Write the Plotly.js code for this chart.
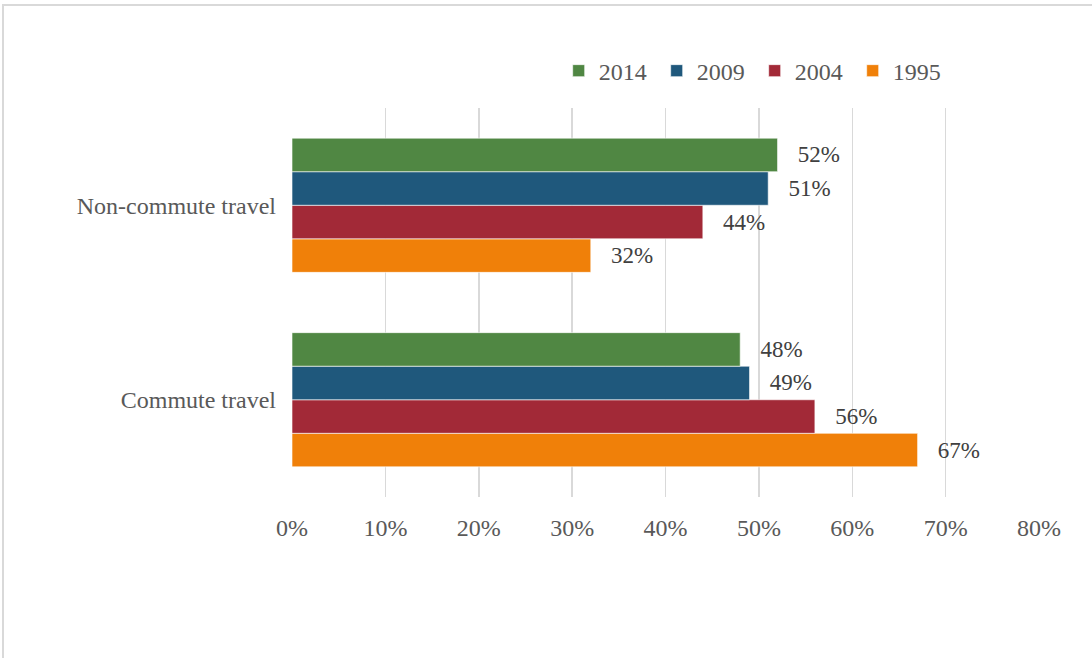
<!DOCTYPE html>
<html>
<head>
<meta charset="utf-8">
<script src="https://cdn.plot.ly/plotly-3.0.1.min.js"></script>
<style>
html,body{margin:0;padding:0;background:#fff;}
#wrap{position:relative;width:1092px;height:658px;}
#chart{width:1092px;height:658px;}
#frame{position:absolute;left:2px;top:4px;width:1090px;height:654px;border-top:2px solid #d9d9d9;border-left:2px solid #d9d9d9;box-sizing:border-box;pointer-events:none;}
</style>
</head>
<body>
<div id="wrap"><div id="chart"></div><div id="frame"></div></div>
<script>
const categories = ['Commute travel', 'Non-commute travel'];
const years = ['1995', '2004', '2009', '2014'];
const values1995 = [0.67, 0.32];
const values2004 = [0.56, 0.44];
const values2009 = [0.49, 0.51];
const values2014 = [0.48, 0.52];
const tickValues = [0, 0.1, 0.2, 0.3, 0.4, 0.5, 0.6, 0.7, 0.8];
const tickLabels = ['0%', '10%', '20%', '30%', '40%', '50%', '60%', '70%', '80%'];

const colors = {'1995': '#F08009', '2004': '#A22937', '2009': '#1F587C', '2014': '#508743'};
const seriesValues = {'1995': values1995, '2004': values2004, '2009': values2009, '2014': values2014};
const FONT = 'Liberation Serif, Times New Roman, serif';
const pad = '\u00a0\u00a0\u00a0';

const traces = years.map(y => ({
  type: 'bar',
  orientation: 'h',
  name: y,
  y: categories,
  x: seriesValues[y],
  text: seriesValues[y].map(v => pad + Math.round(v * 100) + '%'),
  textposition: 'outside',
  constraintext: 'none',
  cliponaxis: false,
  textfont: {family: FONT, size: 23, color: '#404040'},
  marker: {color: colors[y], line: {color: 'rgba(255,255,255,0.6)', width: 1}},
  hoverinfo: 'x+name'
}));

const layout = {
  width: 1092, height: 658,
  margin: {l: 292, r: 53, t: 108, b: 161, pad: 0},
  paper_bgcolor: '#fff', plot_bgcolor: '#fff',
  font: {family: FONT, size: 24, color: '#595959'},
  barmode: 'group',
  bargap: 0.31,
  bargroupgap: 0,
  showlegend: true,
  legend: {
    orientation: 'h', traceorder: 'reversed',
    x: 0.357, xanchor: 'left', y: 1.095, yanchor: 'middle',
    font: {family: FONT, size: 24, color: '#595959'},
    itemwidth: 30, entrywidth: 53, entrywidthmode: 'pixels',
    bgcolor: 'rgba(0,0,0,0)'
  },
  xaxis: {
    range: [0, 0.8], tickvals: tickValues, ticktext: tickLabels,
    showgrid: true, gridcolor: '#d9d9d9', gridwidth: 1.5,
    zeroline: false, showline: false, ticks: '',
    ticklabelstandoff: 14, fixedrange: true
  },
  yaxis: {
    type: 'category', categoryorder: 'array', categoryarray: categories,
    showgrid: false, zeroline: false, showline: false, ticks: '',
    ticklabelstandoff: 15, fixedrange: true
  }
};

Plotly.newPlot('chart', traces, layout, {displayModeBar: false, staticPlot: true});
</script>
</body>
</html>
